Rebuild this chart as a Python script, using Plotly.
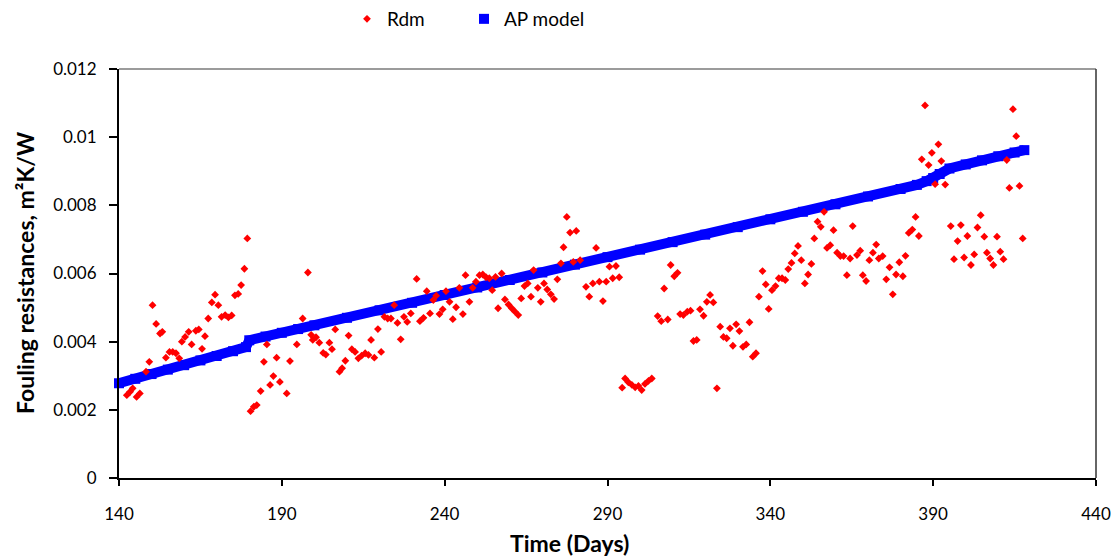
import plotly.graph_objects as go

# Measured fouling resistance (Rdm) - day, value
rdm_days = [142.4, 143.4, 144.2, 145.4, 146.4, 148.3, 149.3, 150.3, 151.4, 152.6,
            153.3, 154.4, 155.5, 156.5, 157.5, 158.5, 159.3, 160.3, 161.4, 162.3,
            163.6, 164.5, 165.5, 166.4, 167.4, 168.5, 169.5, 170.5, 171.5, 172.6,
            173.6, 174.6, 175.6, 176.6, 177.5, 178.5, 179.4, 180.4, 181.4, 182.3,
            183.5, 184.5, 185.4, 186.4, 187.4, 188.4, 189.4, 191.5, 192.5, 194.6,
            196.4, 198.0, 199.0, 199.5, 200.5, 201.5, 202.7, 203.5, 204.6, 205.4,
            206.4, 207.7, 208.5, 209.5, 210.5, 211.5, 212.5, 213.5, 214.5, 215.6,
            216.6, 217.4, 218.4, 219.5, 220.5, 221.5, 222.5, 223.5, 224.5, 225.5,
            226.5, 227.5, 228.5, 229.6, 231.4, 232.4, 233.5, 234.5, 235.5, 236.5,
            237.4, 238.4, 239.4, 240.4, 241.5, 242.5, 243.5, 244.5, 245.6, 246.4,
            247.6, 248.6, 249.6, 250.7, 251.7, 252.7, 253.7, 254.6, 255.6, 256.4,
            257.5, 258.5, 259.6, 260.6, 261.6, 262.6, 263.5, 264.5, 265.5, 266.5,
            267.3, 268.6, 269.5, 270.5, 271.5, 272.6, 273.6, 274.6, 275.7, 276.5,
            277.5, 278.5, 279.5, 280.4, 281.6, 283.4, 284.4, 285.5, 286.5, 287.5,
            288.6, 289.6, 290.6, 291.6, 292.6, 293.6, 294.5, 295.4, 296.4, 297.5,
            298.5, 299.5, 300.5, 301.5, 302.6, 303.6, 305.4, 306.5, 307.4, 308.5,
            309.4, 310.5, 311.5, 312.3, 313.3, 314.5, 315.5, 316.4, 317.4, 318.4,
            319.5, 320.5, 321.5, 322.5, 323.6, 324.6, 325.6, 326.6, 327.6, 328.5,
            329.5, 330.5, 331.6, 332.6, 333.6, 334.6, 335.6, 336.5, 337.6, 338.6,
            339.5, 340.5, 341.6, 342.6, 343.6, 344.6, 345.5, 346.5, 347.5, 348.5,
            349.5, 350.6, 351.6, 352.6, 353.5, 354.5, 355.5, 356.5, 357.4, 358.4,
            359.4, 360.5, 361.5, 362.5, 363.5, 364.5, 365.3, 366.6, 367.6, 368.4,
            369.4, 370.4, 371.5, 372.5, 373.3, 374.5, 375.6, 376.6, 377.6, 378.6,
            379.6, 380.7, 381.5, 382.5, 383.6, 384.6, 385.6, 386.5, 387.5, 388.6,
            389.6, 390.6, 391.6, 392.5, 393.7, 395.4, 396.4, 397.5, 398.5, 399.5,
            400.5, 401.6, 402.6, 403.6, 404.6, 405.7, 406.5, 407.5, 408.5, 409.6,
            410.6, 411.6, 412.6, 413.4, 414.5, 415.5, 416.5, 417.5]
rdm_values = [0.00243, 0.00253, 0.00263, 0.00238, 0.00248, 0.00312, 0.00341, 0.00507, 0.00452, 0.00424,
              0.00429, 0.00353, 0.00370, 0.00370, 0.00366, 0.00351, 0.00400, 0.00414, 0.00429, 0.00392,
              0.00432, 0.00436, 0.00379, 0.00416, 0.00468, 0.00515, 0.00538, 0.00507, 0.00473, 0.00478,
              0.00471, 0.00477, 0.00536, 0.00540, 0.00566, 0.00614, 0.00703, 0.00196, 0.00209, 0.00214,
              0.00255, 0.00341, 0.00392, 0.00273, 0.00299, 0.00353, 0.00282, 0.00248, 0.00343, 0.00392,
              0.00468, 0.00603, 0.00420, 0.00405, 0.00413, 0.00397, 0.00367, 0.00362, 0.00397, 0.00378,
              0.00436, 0.00312, 0.00322, 0.00344, 0.00418, 0.00378, 0.00370, 0.00351, 0.00359, 0.00366,
              0.00361, 0.00405, 0.00353, 0.00437, 0.00370, 0.00473, 0.00468, 0.00468, 0.00507, 0.00455,
              0.00407, 0.00473, 0.00458, 0.00483, 0.00584, 0.00460, 0.00470, 0.00548, 0.00483, 0.00522,
              0.00535, 0.00481, 0.00495, 0.00548, 0.00517, 0.00466, 0.00501, 0.00558, 0.00481, 0.00595,
              0.00517, 0.00558, 0.00576, 0.00595, 0.00597, 0.00589, 0.00586, 0.00551, 0.00590, 0.00498,
              0.00600, 0.00524, 0.00509, 0.00498, 0.00488, 0.00478, 0.00527, 0.00563, 0.00571, 0.00532,
              0.00610, 0.00558, 0.00517, 0.00571, 0.00553, 0.00539, 0.00525, 0.00583, 0.00630, 0.00677,
              0.00766, 0.00720, 0.00634, 0.00725, 0.00639, 0.00561, 0.00532, 0.00571, 0.00675, 0.00576,
              0.00519, 0.00576, 0.00620, 0.00586, 0.00622, 0.00589, 0.00265, 0.00292, 0.00281, 0.00273,
              0.00266, 0.00270, 0.00258, 0.00276, 0.00285, 0.00292, 0.00475, 0.00460, 0.00556, 0.00465,
              0.00625, 0.00592, 0.00602, 0.00481, 0.00478, 0.00488, 0.00491, 0.00402, 0.00405, 0.00495,
              0.00476, 0.00517, 0.00537, 0.00515, 0.00263, 0.00444, 0.00414, 0.00410, 0.00439, 0.00388,
              0.00451, 0.00431, 0.00385, 0.00392, 0.00457, 0.00356, 0.00366, 0.00532, 0.00607, 0.00568,
              0.00496, 0.00551, 0.00563, 0.00586, 0.00586, 0.00581, 0.00613, 0.00631, 0.00659, 0.00681,
              0.00639, 0.00571, 0.00597, 0.00628, 0.00703, 0.00752, 0.00737, 0.00781, 0.00675, 0.00683,
              0.00727, 0.00661, 0.00651, 0.00651, 0.00595, 0.00644, 0.00739, 0.00654, 0.00667, 0.00595,
              0.00578, 0.00639, 0.00661, 0.00685, 0.00644, 0.00651, 0.00583, 0.00618, 0.00539, 0.00597,
              0.00633, 0.00592, 0.00652, 0.00719, 0.00729, 0.00766, 0.00710, 0.00935, 0.01093, 0.00918,
              0.00954, 0.00862, 0.00979, 0.00930, 0.00861, 0.00739, 0.00642, 0.00695, 0.00742, 0.00647,
              0.00710, 0.00625, 0.00656, 0.00735, 0.00771, 0.00708, 0.00661, 0.00644, 0.00625, 0.00708,
              0.00664, 0.00642, 0.00933, 0.00851, 0.01082, 0.01003, 0.00857, 0.00703]

# AP model curve
ap_days = [140, 145, 150, 155, 160, 165, 170, 175, 179, 180, 185, 190, 195, 200,
           210, 220, 230, 240, 250, 260, 270, 280, 290, 300, 310, 320, 330, 340,
           350, 360, 370, 380, 385, 388, 390, 392, 395, 400, 405, 410, 415, 418]
ap_values = [0.00278, 0.00291, 0.00305, 0.00318, 0.00331, 0.00345, 0.00358, 0.00372,
             0.00384, 0.00404, 0.00415, 0.00426, 0.00437, 0.00448, 0.00470, 0.00492,
             0.00514, 0.00537, 0.00559, 0.00581, 0.00603, 0.00626, 0.00648, 0.00670,
             0.00692, 0.00714, 0.00736, 0.00759, 0.00781, 0.00803, 0.00826, 0.00848,
             0.00860, 0.00871, 0.00880, 0.00892, 0.00908, 0.00920, 0.00932, 0.00944,
             0.00955, 0.00962]

x_ticks = [140, 190, 240, 290, 340, 390, 440]
y_ticks = [0, 0.002, 0.004, 0.006, 0.008, 0.010, 0.012]
y_tick_labels = ["0", "0.002", "0.004", "0.006", "0.008", "0.01", "0.012"]

FONT = "Lato, 'Open Sans', sans-serif"
W, H = 1120, 557
L, R, T, B = 119, 24, 69, 79
PW, PH = W - L - R, H - T - B

fig = go.Figure()
fig.add_trace(go.Scatter(x=ap_days, y=ap_values, mode="lines",
                         line=dict(color="#0000FF", width=10), showlegend=False,
                         hoverinfo="skip"))
fig.add_trace(go.Scatter(x=ap_days, y=ap_values, mode="markers", name="AP model",
                         marker=dict(symbol="square", color="#0000FF", size=10),
                         cliponaxis=False, legend="legend2"))
fig.add_trace(go.Scatter(x=rdm_days, y=rdm_values, mode="markers", name="Rdm",
                         marker=dict(symbol="diamond", color="#FF0000", size=6),
                         legend="legend"))

fig.update_layout(
    width=W, height=H,
    margin=dict(l=L, r=R, t=T, b=B, autoexpand=False),
    paper_bgcolor="white", plot_bgcolor="white",
    font=dict(family=FONT, size=16, color="#000000"),
    legend=dict(xref="container", yref="container", x=347 / W, y=1 - 19 / H,
                xanchor="left", yanchor="middle", orientation="h",
                font=dict(size=19), bgcolor="rgba(0,0,0,0)"),
    legend2=dict(xref="container", yref="container", x=464 / W, y=1 - 19 / H,
                 xanchor="left", yanchor="middle", orientation="h",
                 font=dict(size=19), bgcolor="rgba(0,0,0,0)"),
    xaxis=dict(range=[140, 440], tickvals=x_ticks, ticks="outside", ticklen=6,
               tickcolor="black", tickwidth=1.5, showline=True, linecolor="black",
               linewidth=2, mirror=False, showgrid=False, zeroline=False,
               ticklabelstandoff=14, tickfont=dict(size=17)),
    yaxis=dict(range=[0, 0.012], tickvals=y_ticks, ticktext=y_tick_labels,
               ticks="outside", ticklen=8, tickcolor="black", tickwidth=1.5,
               showline=True, linecolor="black", linewidth=2, mirror=False,
               showgrid=False, zeroline=False, tickfont=dict(size=17),
               ticklabelstandoff=9),
    shapes=[
        dict(type="line", xref="paper", yref="paper", x0=0, x1=1, y0=1, y1=1,
             line=dict(color="#7a7a7a", width=1.5)),
        dict(type="line", xref="paper", yref="paper", x0=1, x1=1, y0=0, y1=1,
             line=dict(color="#333333", width=1.5)),
    ],
    annotations=[
        dict(text="<b>Time (Days)</b>", x=(569 - L) / PW, y=-(543 - 478) / PH,
             xref="paper", yref="paper", showarrow=False, xanchor="center",
             yanchor="middle", font=dict(size=23)),
        dict(text="<b>Fouling resistances, m²K/W</b>", x=(25 - L) / PW, y=(478 - 273) / PH,
             xref="paper", yref="paper", showarrow=False, xanchor="center",
             yanchor="middle", textangle=-90, font=dict(size=23)),
    ],
)

fig.write_html("out.html")
